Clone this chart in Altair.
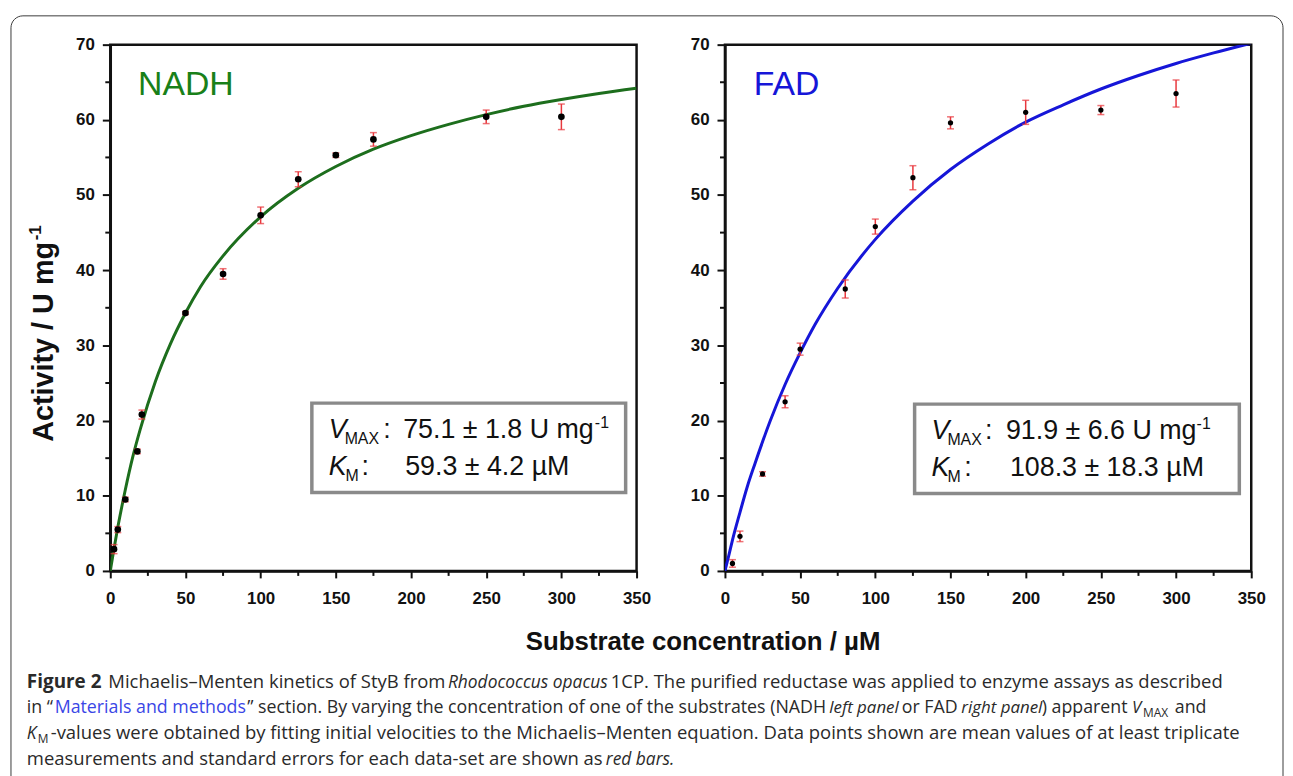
import altair as alt
import pandas as pd

# ---------------- data ----------------
nadh_x = [2.5, 5, 10, 18, 21, 50, 75, 100, 125, 150, 175, 250, 300]
nadh_y = [2.9, 5.5, 9.5, 15.9, 20.8, 34.3, 39.5, 47.3, 52.1, 55.3, 57.4, 60.4, 60.4]
nadh_err = [0.6, 0.4, 0.3, 0.3, 0.6, 0.2, 0.7, 1.1, 1.0, 0.3, 0.9, 0.9, 1.7]

fad_x = [5, 10, 25, 40, 50, 80, 100, 125, 150, 200, 250, 300]
fad_y = [1.0, 4.6, 12.9, 22.5, 29.5, 37.5, 45.8, 52.3, 59.6, 61.0, 61.3, 63.5]
fad_err = [0.5, 0.7, 0.3, 0.8, 0.8, 1.2, 1.0, 1.6, 0.8, 1.6, 0.6, 1.8]

curve_x = [0, 2.5, 5, 10, 15, 20, 30, 40, 50, 60, 75, 100, 125, 150, 175,
           200, 225, 250, 275, 300, 325, 350]
nadh_curve = [0, 3.0, 5.8, 10.8, 15.2, 18.9, 25.2, 30.2, 34.3, 37.8, 41.9, 47.1,
              50.9, 53.8, 56.1, 57.9, 59.4, 60.7, 61.8, 62.7, 63.5, 64.2]
fad_curve = [0, 2.0, 4.1, 7.8, 11.3, 14.3, 19.9, 24.8, 29.0, 32.8, 37.6, 44.1,
             49.2, 53.4, 56.8, 59.7, 62.0, 64.1, 65.9, 67.5, 68.9, 70.2]

x_major = [0, 50, 100, 150, 200, 250, 300, 350]
x_minor = [25, 75, 125, 175, 225, 275, 325]
y_major = [0, 10, 20, 30, 40, 50, 60, 70]
y_minor = [5, 15, 25, 35, 45, 55, 65]

# ---------------- styling ----------------
W, H = 530, 530
GREEN_LINE = "#1d6e1d"
GREEN_TXT = "#198019"
BLUE = "#1616d8"
RED = "#e8383d"
INK = "#111111"
CAP = "#2a2a2a"
LINK = "#3a46e6"
BOXF = "Liberation Sans"
CAPF = "Open Sans"
CS = 18.6   # caption size
C2 = 17.9   # caption size, line 2
CI = 17.5   # caption italic size
CI2 = 17.0  # caption italic size, line 2

xs = alt.Scale(domain=[0, 350], nice=False)
ys = alt.Scale(domain=[0, 70], nice=False)
x_axis = alt.Axis(values=x_major, title=None, tickSize=7, labelPadding=13, labelFlush=False)
y_axis = alt.Axis(values=y_major, title=None, tickSize=8, labelPadding=8, labelFlush=False)

blank = alt.Data(values=[{"k": 0}])


def X(field):
    return alt.X(field, type="quantitative", scale=xs, axis=x_axis)


def Y(field):
    return alt.Y(field, type="quantitative", scale=ys, axis=y_axis)


def txt(text, x, y, size, weight="normal", style="normal", color=INK, font=BOXF,
        align="left", angle=0):
    kw = dict(text=text, fontSize=size, fontWeight=weight, fontStyle=style,
              color=color, font=font, align=align, baseline="alphabetic")
    if angle:
        kw["angle"] = angle
    return alt.Chart(blank).mark_text(**kw).encode(x=alt.value(x), y=alt.value(y))


def cap(text, x_abs, y, size=CS, **kw):
    kw.setdefault("font", CAPF)
    kw.setdefault("color", CAP)
    return txt(text, x_abs - 110, y, size, **kw)


def panel(xv, yv, ev, cy, line_color, dot_size):
    pts = pd.DataFrame({"x": xv, "y": yv, "err": ev})
    cur = pd.DataFrame({"x": curve_x, "y": cy})
    base = alt.Chart(pts).transform_calculate(
        lo="datum.y - datum.err", hi="datum.y + datum.err")
    line = alt.Chart(cur).mark_line(color=line_color, strokeWidth=3, clip=True,
                                    interpolate="monotone").encode(x=X("x"), y=Y("y"))
    bars = base.mark_rule(color=RED, strokeWidth=1.5).encode(x=X("x"), y=Y("lo"), y2="hi:Q")
    cap_lo = base.mark_tick(orient="horizontal", size=7, thickness=1.5, color=RED).encode(
        x=X("x"), y=Y("lo"))
    cap_hi = base.mark_tick(orient="horizontal", size=7, thickness=1.5, color=RED).encode(
        x=X("x"), y=Y("hi"))
    dots = base.mark_circle(size=dot_size, color="black", opacity=1).encode(x=X("x"), y=Y("y"))
    ymin = alt.Chart(pd.DataFrame({"v": y_minor})).mark_rule(color=INK, strokeWidth=2).encode(
        y=Y("v"), x=alt.value(-5), x2=alt.value(0))
    xmin = alt.Chart(pd.DataFrame({"v": x_minor})).mark_rule(color=INK, strokeWidth=2).encode(
        x=X("v"), y=alt.value(H), y2=alt.value(H + 5))
    return [line, bars, cap_lo, cap_hi, dots, ymin, xmin]


# ---------------- left panel (NADH) ----------------
border = alt.Chart(blank).mark_rect(fill="transparent", stroke="#3a3a3a", strokeWidth=1,
                                    cornerRadius=12).encode(
    x=alt.value(-100), x2=alt.value(1181), y=alt.value(-29), y2=alt.value(790))

box_l = alt.Chart(blank).mark_rect(fill="white", stroke="#8a8a8a", strokeWidth=3.5).encode(
    x=alt.value(203), x2=alt.value(519), y=alt.value(361), y2=alt.value(451))

left_txt = [
    txt("NADH", 28, 51, 34, color=GREEN_TXT),
    box_l,
    txt("V", 220, 396, 27, style="italic"),
    txt("MAX", 236, 402, 16),
    txt(":", 275, 396, 27),
    txt("75.1 ± 1.8 U mg", 295, 396, 27),
    txt("-1", 488, 386, 16),
    txt("K", 220, 433, 27, style="italic"),
    txt("M", 237, 439, 16),
    txt(":", 253, 433, 27),
    txt("59.3 ± 4.2 µM", 297, 433, 27),
    # y axis title (rotated)
    txt("Activity / U mg", -58, 400, 29, weight="bold", angle=270),
    txt("-1", -70, 197, 17, weight="bold", angle=270),
    # shared x title
    txt("Substrate concentration / µM", 597, 610, 26, weight="bold", align="center"),
    # caption line 1
    cap("Figure 2", 26, 647.5, 19, weight="bold"),
    cap("Michaelis–Menten kinetics of StyB from", 108, 647.5),
    cap("Rhodococcus opacus", 450, 647.5, CI, style="italic"),
    cap("1CP. The purified reductase was applied to enzyme assays as described", 614, 647.5),
    # caption line 2
    cap("in “", 26, 673.5, C2),
    cap("Materials and methods", 54, 673.5, C2, color=LINK),
    cap("” section. By varying the concentration of one of the substrates (NADH", 248, 673.5, C2),
    cap("left panel", 834, 673.5, CI2, style="italic"),
    cap("or FAD", 907, 673.5, C2),
    cap("right panel", 967, 673.5, CI2, style="italic"),
    cap(") apparent", 1048, 673.5, C2),
    cap("V", 1139, 673.5, CI2, style="italic"),
    cap("MAX", 1150, 677.5, 12),
    cap("and", 1182, 673.5, C2),
    # caption line 3
    cap("K", 26, 699.5, CI, style="italic"),
    cap("M", 37, 703.5, 12),
    cap("-values were obtained by fitting initial velocities to the Michaelis–Menten equation. "
        "Data points shown are mean values of at least triplicate", 50, 699.5),
    # caption line 4
    cap("measurements and standard errors for each data-set are shown as", 26, 725),
    cap("red bars.", 609, 725, CI, style="italic"),
]

left = alt.layer(border, *panel(nadh_x, nadh_y, nadh_err, nadh_curve, GREEN_LINE, 45),
                 *left_txt).properties(width=W, height=H)

# ---------------- right panel (FAD) ----------------
box_r = alt.Chart(blank).mark_rect(fill="white", stroke="#8a8a8a", strokeWidth=3.5).encode(
    x=alt.value(191), x2=alt.value(518), y=alt.value(362), y2=alt.value(452))

right_txt = [
    txt("FAD", 29, 51, 34, color=BLUE),
    box_r,
    txt("V", 208, 397, 27, style="italic"),
    txt("MAX", 224, 403, 16),
    txt(":", 262, 397, 27),
    txt("91.9 ± 6.6 U mg", 283, 397, 27),
    txt("-1", 475, 387, 16),
    txt("K", 208, 434, 27, style="italic"),
    txt("M", 224, 440, 16),
    txt(":", 241, 434, 27),
    txt("108.3 ± 18.3 µM", 287, 434, 27),
]

right = alt.layer(*panel(fad_x, fad_y, fad_err, fad_curve, BLUE, 28),
                  *right_txt).properties(width=W, height=H)

chart = alt.hconcat(left, right, spacing=89, bounds="flush").properties(
    padding={"left": 1, "top": 3, "right": 0, "bottom": 0}
).configure_view(stroke=INK, strokeWidth=2.5).configure_axis(
    labelFont="Liberation Sans", labelFontSize=17, labelFontWeight="bold", labelColor=INK,
    tickColor=INK, tickWidth=2, domainColor=INK, domainWidth=2.5, grid=False
)

chart.save("out.html", embed_options={"renderer": "svg", "actions": False})
